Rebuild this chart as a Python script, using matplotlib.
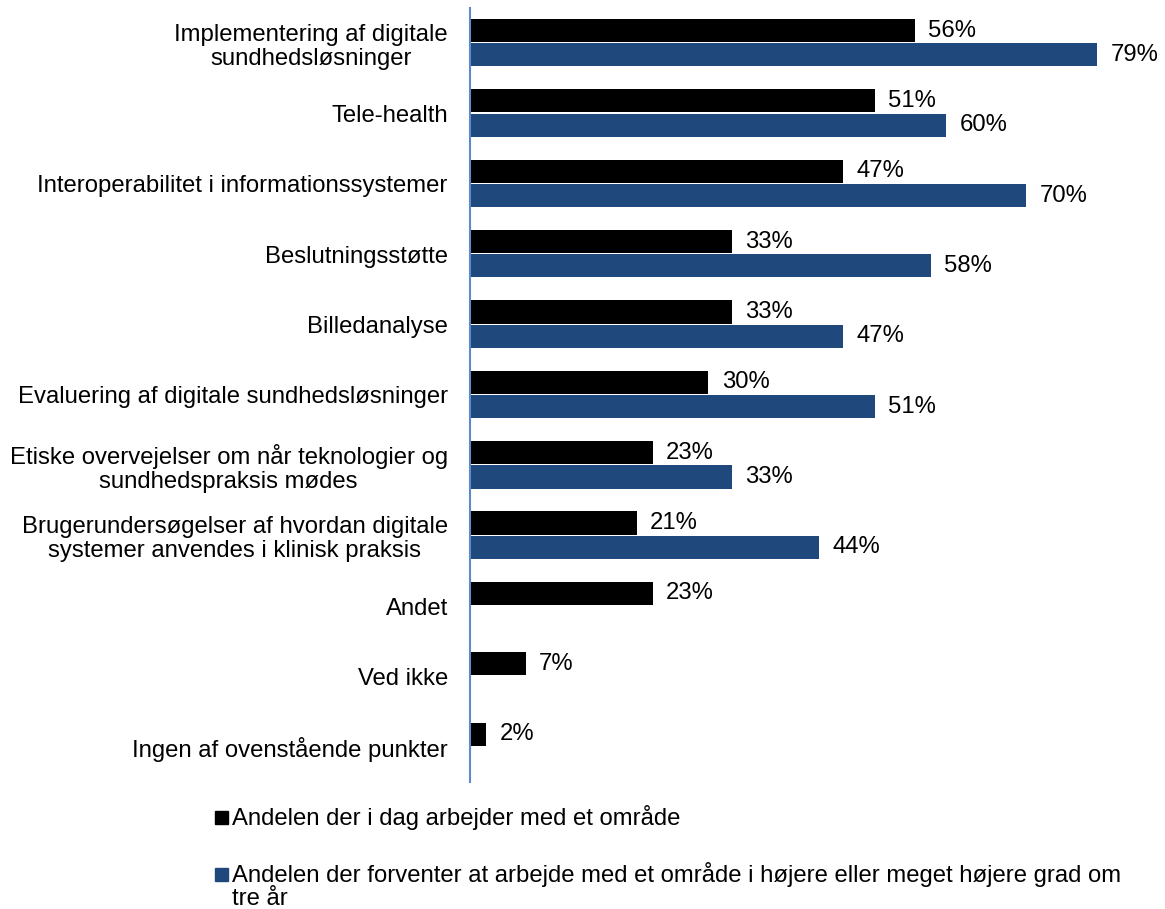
import matplotlib
matplotlib.use("Agg")
import matplotlib.pyplot as plt
from matplotlib.patches import Rectangle
import numpy as np

plt.rcParams['font.family'] = ['Liberation Sans', 'DejaVu Sans']

categories = [
    "Implementering af digitale\nsundhedsløsninger",
    "Tele-health",
    "Interoperabilitet i informationssystemer",
    "Beslutningsstøtte",
    "Billedanalyse",
    "Evaluering af digitale sundhedsløsninger",
    "Etiske overvejelser om når teknologier og\nsundhedspraksis mødes",
    "Brugerundersøgelser af hvordan digitale\nsystemer anvendes i klinisk praksis",
    "Andet",
    "Ved ikke",
    "Ingen af ovenstående punkter",
]
today = [56, 51, 47, 33, 33, 30, 23, 21, 23, 7, 2]
future = [79, 60, 70, 58, 47, 51, 33, 44, np.nan, np.nan, np.nan]
series_names = [
    "Andelen der i dag arbejder med et område",
    "Andelen der forventer at arbejde med et område i højere eller meget højere grad om\ntre år",
]
colors = ["#000000", "#1F497D"]

fs = 17.2
W, H = 1165, 909
fig = plt.figure(figsize=(W/100, H/100), dpi=100)
ax = fig.add_axes([470/W, 1-782/H, 1-470/W, (782-8)/H])

y = np.arange(len(categories))
h = 0.33
ax.barh(y - 0.18, today, height=h, color=colors[0])
fut = np.array(future, dtype=float)
ax.barh(y + 0.165, fut, height=h, color=colors[1])

for yi, v in zip(y, today):
    ax.text(v + 1.7, yi - 0.18, f"{v}%", va="center", ha="left", fontsize=fs)
for yi, v in zip(y, fut):
    if not np.isnan(v):
        ax.text(v + 1.7, yi + 0.165, f"{int(v)}%", va="center", ha="left", fontsize=fs)

ax.set_ylim(len(categories) - 0.5, -0.5)
ax.set_xlim(0, (W - 470) / 7.94)
ax.set_yticks(y)
ax.set_yticklabels(categories, fontsize=fs, multialignment="center", linespacing=1.12)
ax.tick_params(axis="y", length=0, pad=16)
ax.set_xticks([])
for s in ["top", "right", "bottom"]:
    ax.spines[s].set_visible(False)
ax.spines["left"].set_color("#5B8BC8")
ax.spines["left"].set_linewidth(1.5)

# legend
for (ycen, col) in [(817, colors[0]), (874, colors[1])]:
    fig.patches.append(Rectangle((215/W, 1-(ycen+6.5)/H), 13/W, 13/H,
                                 transform=fig.transFigure, color=col))
fig.text(232/W, 1-817/H, series_names[0], fontsize=fs, va="center", ha="left")
fig.text(232/W, 1-862/H, series_names[1], fontsize=fs, va="top", ha="left", linespacing=1.08)

fig.savefig("out.png", dpi=100)
